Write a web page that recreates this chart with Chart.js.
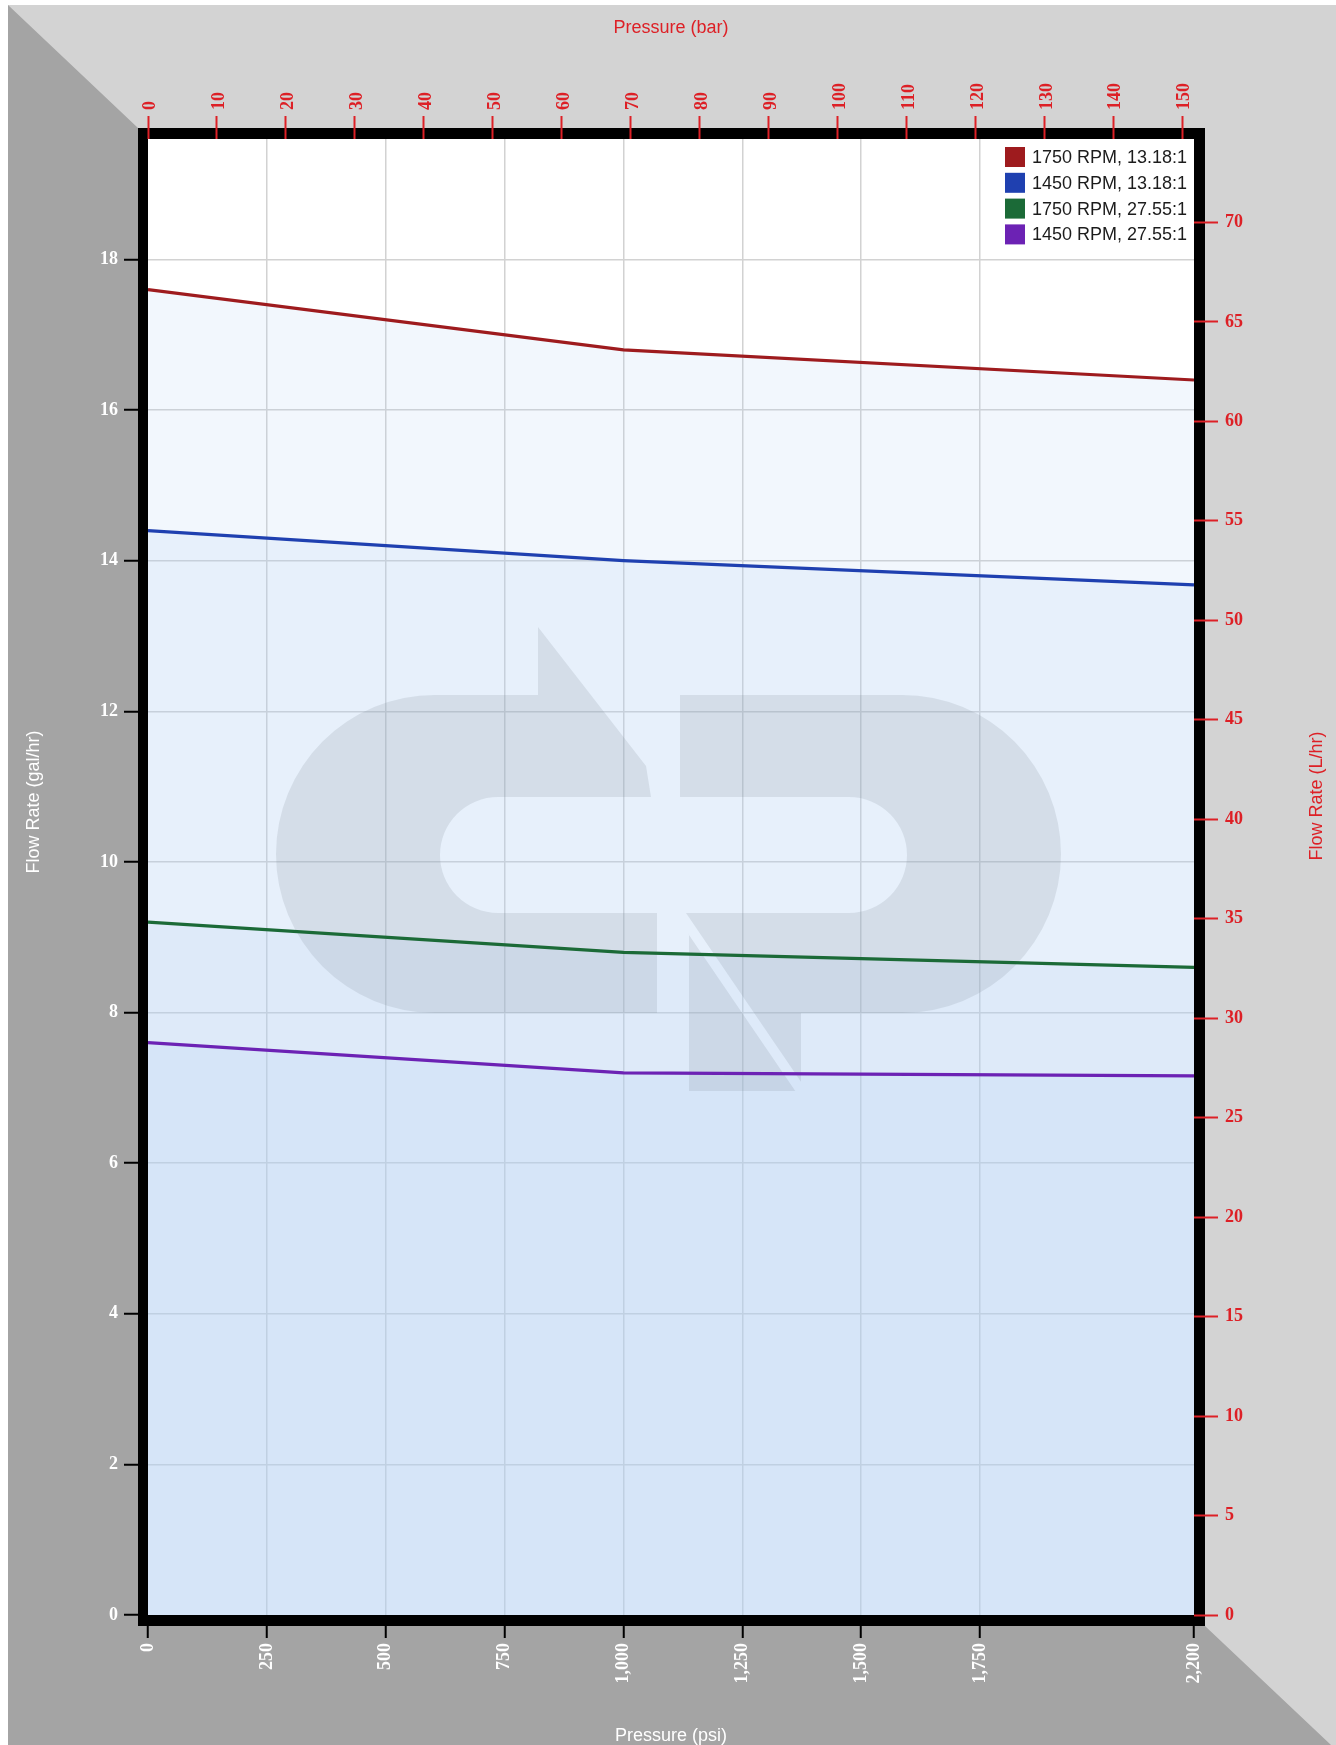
<!DOCTYPE html>
<html>
<head>
<meta charset="utf-8">
<title>Flow Rate vs Pressure</title>
<script src="https://cdn.jsdelivr.net/npm/chart.js@4.4.1/dist/chart.umd.min.js"></script>
<style>
  html, body { margin: 0; padding: 0; background: #fff; overflow: hidden; }
  #wrap { position: absolute; left: 8px; top: 5px; width: 1328px; height: 1740px; }
</style>
</head>
<body>
<div id="wrap"><canvas id="pumpChart"></canvas></div>
<script>
// pressure points (psi) where the curves were measured
const psiPoints = [0, 1000, 2200];

// flow rate in gal/hr for each motor / gear ratio combo
const seriesLabels = ['1750 RPM, 13.18:1', '1450 RPM, 13.18:1', '1750 RPM, 27.55:1', '1450 RPM, 27.55:1'];
const rpm1750Ratio1318 = [17.6, 16.8, 16.4];
const rpm1450Ratio1318 = [14.4, 14.0, 13.68];
const rpm1750Ratio2755 = [9.2, 8.8, 8.6];
const rpm1450Ratio2755 = [7.6, 7.2, 7.16];

// tick labels for the four axes
const psiTicks = [0, 250, 500, 750, 1000, 1250, 1500, 1750, 2200];
const barTicks = [0, 10, 20, 30, 40, 50, 60, 70, 80, 90, 100, 110, 120, 130, 140, 150];
const galTicks = [0, 2, 4, 6, 8, 10, 12, 14, 16, 18];
const litreTicks = [0, 5, 10, 15, 20, 25, 30, 35, 40, 45, 50, 55, 60, 65, 70];

const psiMax = 2200;
const galMax = 19.6;
const PSI_PER_BAR = 14.5038;
const LITRES_PER_GAL = 3.78541;

const lineColors = ['#9e1b1e', '#1f40b0', '#1b6a37', '#6c22b4'];
const RED = '#dd2026';
const tickFont = { family: '"Liberation Serif", "Times New Roman", serif', weight: 'bold', size: 18 };
const textFont = '18px "Liberation Sans", Arial, Helvetica, sans-serif';

function toPoints(values) {
    return values.map((v, i) => ({ x: psiPoints[i], y: v }));
}

function setTicks(list) {
    return function(scale) {
        scale.ticks = list.map(v => ({ value: v }));
    };
}

// hide grid lines sitting on the frame edges
function gridColor(edgeValues) {
    return function(ctx) {
        if (ctx.tick && edgeValues.indexOf(ctx.tick.value) !== -1) return 'rgba(0,0,0,0)';
        return '#d2d2d2';
    };
}

// gray box background + black frame around plot
const framePlugin = {
    id: 'frame',
    beforeDraw(chart) {
        const { ctx, width, height, chartArea: a } = chart;
        ctx.save();
        ctx.fillStyle = '#d3d3d3';
        ctx.fillRect(0, 0, width, height);
        ctx.fillStyle = '#a4a4a4';
        ctx.beginPath();
        ctx.moveTo(0, 0);
        ctx.lineTo(a.left - 10, a.top - 11);
        ctx.lineTo(a.left - 10, a.bottom + 11);
        ctx.lineTo(a.right + 11, a.bottom + 11);
        ctx.lineTo(a.right + 11 + 126, a.bottom + 11 + 119);
        ctx.lineTo(0, height);
        ctx.closePath();
        ctx.fill();
        ctx.fillStyle = '#000';
        ctx.fillRect(a.left - 10, a.top - 11, a.width + 21, a.height + 22);
        ctx.fillStyle = '#fff';
        ctx.fillRect(a.left, a.top, a.width, a.height);
        ctx.restore();
    }
};

// faint logo behind the curves
const logoPlugin = {
    id: 'logo',
    beforeDatasetsDraw(chart) {
        const { ctx, width, height } = chart;
        ctx.save();
        ctx.beginPath();
        ctx.rect(0, 0, width, height);
        // diagonal cut through the P stem
        ctx.moveTo(666, 908);
        ctx.lineTo(790, 1090);
        ctx.lineTo(802, 1090);
        ctx.lineTo(678, 908);
        ctx.closePath();
        ctx.clip('evenodd');

        ctx.fillStyle = 'rgba(120,130,140,0.17)';
        // C with arrow
        ctx.beginPath();
        ctx.moveTo(530, 622);
        ctx.lineTo(638, 761);
        ctx.lineTo(643, 792);
        ctx.lineTo(490, 792);
        ctx.arc(490, 850, 58, -Math.PI / 2, Math.PI / 2, true);
        ctx.lineTo(649, 908);
        ctx.lineTo(649, 1008);
        ctx.lineTo(427, 1008);
        ctx.arc(427, 849, 159, Math.PI / 2, Math.PI * 1.5, false);
        ctx.lineTo(530, 690);
        ctx.closePath();
        ctx.fill();

        // P
        ctx.beginPath();
        ctx.moveTo(672, 690);
        ctx.lineTo(894, 690);
        ctx.arc(894, 849, 159, -Math.PI / 2, Math.PI / 2, false);
        ctx.lineTo(793, 1008);
        ctx.lineTo(793, 1086);
        ctx.lineTo(681, 1086);
        ctx.lineTo(681, 930);
        ctx.lineTo(676, 908);
        ctx.lineTo(841, 908);
        ctx.arc(841, 850, 58, Math.PI / 2, -Math.PI / 2, true);
        ctx.lineTo(672, 792);
        ctx.closePath();
        ctx.fill();
        ctx.restore();
    }
};

// axis titles and legend
const labelsPlugin = {
    id: 'labels',
    afterDraw(chart) {
        const { ctx, chartArea: a } = chart;
        const cx = (a.left + a.right) / 2;
        ctx.save();
        ctx.font = textFont;
        ctx.textAlign = 'center';
        ctx.textBaseline = 'middle';

        ctx.fillStyle = RED;
        ctx.fillText('Pressure (bar)', cx, 23);
        ctx.fillStyle = '#fff';
        ctx.fillText('Pressure (psi)', cx, 1731);

        ctx.save();
        ctx.translate(26, 797);
        ctx.rotate(-Math.PI / 2);
        ctx.fillStyle = '#fff';
        ctx.fillText('Flow Rate (gal/hr)', 0, 0);
        ctx.restore();

        ctx.save();
        ctx.translate(1309, 791);
        ctx.rotate(-Math.PI / 2);
        ctx.fillStyle = RED;
        ctx.fillText('Flow Rate (L/hr)', 0, 0);
        ctx.restore();

        // legend
        ctx.textAlign = 'left';
        chart.data.datasets.forEach((ds, i) => {
            const y = 142 + i * 25.8;
            ctx.fillStyle = ds.borderColor;
            ctx.fillRect(997, y, 20, 20);
            ctx.fillStyle = '#1c1c1c';
            ctx.fillText(ds.label, 1024, y + 11);
        });
        ctx.restore();
    }
};

const seriesValues = [rpm1750Ratio1318, rpm1450Ratio1318, rpm1750Ratio2755, rpm1450Ratio2755];

const datasets = seriesValues.map((vals, i) => ({
    label: seriesLabels[i],
    data: toPoints(vals),
    borderColor: lineColors[i],
    backgroundColor: 'rgba(179,208,243,0.17)',
    borderWidth: 3.2,
    pointRadius: 0,
    tension: 0,
    fill: 'origin'
}));

var chart = new Chart(document.getElementById('pumpChart').getContext('2d'), {
    type: 'line',
    data: { datasets: datasets },
    options: {
        responsive: true,
        maintainAspectRatio: false,
        animation: false,
        layout: { padding: 0, autoPadding: false },
        plugins: {
            legend: { display: false },
            tooltip: { enabled: false },
            filler: { drawTime: 'beforeDatasetsDraw' }
        },
        scales: {
            x: {
                type: 'linear',
                position: 'bottom',
                min: 0,
                max: psiMax,
                afterBuildTicks: setTicks(psiTicks),
                afterFit: s => { s.height = 130; },
                border: { display: false },
                grid: { color: gridColor([0, psiMax]), lineWidth: 1.5, tickColor: '#000', tickWidth: 2, tickLength: 23 },
                ticks: {
                    color: '#fff', font: tickFont, padding: 5, autoSkip: false,
                    minRotation: 90, maxRotation: 90,
                    callback: v => v.toLocaleString('en-US')
                }
            },
            xBar: {
                type: 'linear',
                position: 'top',
                min: 0,
                max: psiMax / PSI_PER_BAR,
                afterBuildTicks: setTicks(barTicks),
                afterFit: s => { s.height = 134; },
                border: { display: false },
                grid: { drawOnChartArea: false, tickColor: RED, tickWidth: 2, tickLength: 23 },
                ticks: { color: RED, font: tickFont, padding: 6, labelOffset: 24, autoSkip: false, minRotation: 90, maxRotation: 90 }
            },
            y: {
                type: 'linear',
                position: 'left',
                min: 0,
                max: galMax,
                afterBuildTicks: setTicks(galTicks),
                afterFit: s => { s.width = 140; },
                border: { display: false },
                grid: { color: gridColor([0]), lineWidth: 1.5, tickColor: '#000', tickWidth: 2, tickLength: 24 },
                ticks: { color: '#fff', font: tickFont, padding: 6, autoSkip: false }
            },
            yLitre: {
                type: 'linear',
                position: 'right',
                min: 0,
                max: galMax * LITRES_PER_GAL,
                afterBuildTicks: setTicks(litreTicks),
                afterFit: s => { s.width = 142; },
                border: { display: false },
                grid: { drawOnChartArea: false, tickColor: RED, tickWidth: 2, tickLength: 24 },
                ticks: { color: RED, font: tickFont, padding: 7, autoSkip: false }
            }
        }
    },
    plugins: [framePlugin, logoPlugin, labelsPlugin]
});
</script>
</body>
</html>
